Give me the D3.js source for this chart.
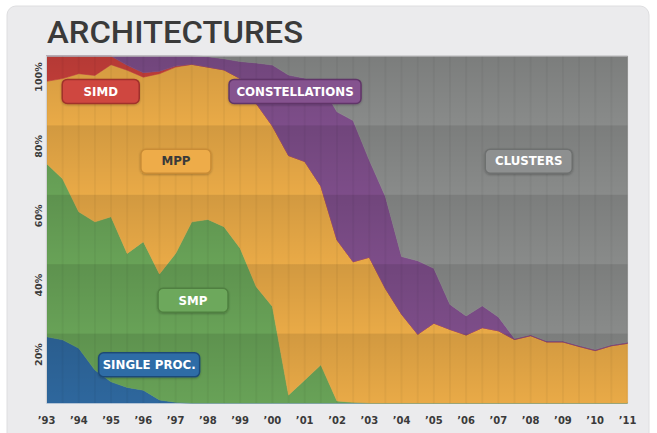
<!DOCTYPE html>
<html>
<head>
<meta charset="utf-8">
<script src="https://cdn.jsdelivr.net/npm/d3@7/dist/d3.min.js"></script>
<style>
  body { margin: 0; background: #fff; }
  svg { display: block; font-family: "DejaVu Sans", sans-serif; }
</style>
</head>
<body>
<div id="chart"></div>
<script>
// TOP500 share by architecture, two lists per year ('93 .. '11), in %
const periods = [1993, 1993.5, 1994, 1994.5, 1995, 1995.5, 1996, 1996.5, 1997, 1997.5,
  1998, 1998.5, 1999, 1999.5, 2000, 2000.5, 2001, 2001.5, 2002, 2002.5, 2003, 2003.5,
  2004, 2004.5, 2005, 2005.5, 2006, 2006.5, 2007, 2007.5, 2008, 2008.5, 2009, 2009.5,
  2010, 2010.5, 2011];
const singleProc = [19.1, 18.2, 15.8, 9.5, 6.1, 4.5, 3.7, 0.9, 0.2, 0, 0, 0, 0, 0, 0, 0, 0, 0, 0,
  0, 0, 0, 0, 0, 0, 0, 0, 0, 0, 0, 0, 0, 0, 0, 0, 0, 0];
const smp = [49.9, 46.4, 39.3, 42.7, 47.6, 38.6, 42.8, 36.3, 42.9, 52.2, 52.9, 50.8, 44.6, 33.5,
  27.8, 2.3, 6.6, 11.0, 0.6, 0.2, 0, 0, 0, 0, 0, 0, 0, 0, 0, 0, 0, 0, 0, 0, 0, 0, 0];
const mpp = [23.7, 28.9, 39.8, 42.2, 43.8, 52.8, 47.4, 57.7, 53.7, 45.4, 43.9, 45.2, 48.9, 52.8,
  52.0, 69.0, 63.0, 51.5, 46.4, 40.5, 42.0, 33.0, 25.6, 19.8, 23.0, 21.2, 19.6, 21.7, 20.8,
  18.3, 19.4, 17.6, 17.6, 16.3, 15.1, 16.5, 17.2];
const simd = [7.3, 6.5, 5.1, 5.6, 2.5, 1.4, 1.3, 0.7, 0.3, 0, 0, 0, 0, 0, 0, 0, 0, 0, 0, 0, 0, 0,
  0, 0, 0, 0, 0, 0, 0, 0, 0, 0, 0, 0, 0, 0, 0];
const constellations = [0, 0, 0, 0, 0, 2.7, 4.8, 4.4, 2.9, 2.4, 3.0, 3.2, 4.9, 11.7, 17.6, 23.2,
  24.0, 29.3, 36.9, 40.7, 28.0, 26.5, 16.6, 21.2, 15.8, 7.2, 5.5, 6.3, 4.0, 0.3, 0.3, 0.3, 0.3,
  0.3, 0.3, 0.3, 0.3];
const clusters = [0, 0, 0, 0, 0, 0, 0, 0, 0, 0, 0.2, 0.8, 1.6, 2.0, 2.6, 5.5, 6.4, 8.2, 16.1,
  18.6, 30.0, 40.5, 57.8, 59.0, 61.2, 71.6, 74.9, 72.0, 75.2, 81.4, 80.3, 82.1, 82.1, 83.4,
  84.6, 83.2, 82.5];

const yearTicks = d3.range(1993, 2012);
const yTicks = [20, 40, 60, 80, 100];
const bands = [[80, 100], [60, 80], [40, 60], [20, 40], [0, 20]];

const series = [
  {key: 'single', name: 'SINGLE PROC.', values: singleProc, color: '#2e679d'},
  {key: 'smp', name: 'SMP', values: smp, color: '#68a257'},
  {key: 'mpp', name: 'MPP', values: mpp, color: '#e9aa47'},
  {key: 'simd', name: 'SIMD', values: simd, color: '#c9403b'},
  {key: 'const', name: 'CONSTELLATIONS', values: constellations, color: '#7d4d89'},
  {key: 'clusters', name: 'CLUSTERS', values: clusters, color: '#898b8a'}
];

// label boxes: where the tag sits, in data units (year, %)
const tags = [
  {key: 'simd', at: [1994.68, 89.8], w: 77, fill: '#cf4640', stroke: '#a0302b', text: '#fff'},
  {key: 'const', at: [2000.70, 89.8], w: 132, fill: '#85528f', stroke: '#603668', text: '#fff'},
  {key: 'mpp', at: [1997.01, 69.7], w: 70, fill: '#eeac48', stroke: '#c98c36', text: '#3a3a3a'},
  {key: 'clusters', at: [2007.94, 69.7], w: 87, fill: '#8e9090', stroke: '#6e706f', text: '#fff'},
  {key: 'smp', at: [1997.54, 29.6], w: 70, fill: '#6da85b', stroke: '#4f8040', text: '#fff'},
  {key: 'single', at: [1996.18, 11.0], w: 101, fill: '#2f6ca6', stroke: '#1e4a77', text: '#fff'}
];

const W = 657, H = 433;
const margin = {top: 56, right: 30, bottom: 30, left: 46.5};
const width = 627.5 - margin.left;
const height = 403 - margin.top;

const svg = d3.select('#chart').append('svg')
  .attr('width', W)
  .attr('height', H);

const defs = svg.append('defs');
const grad = defs.append('linearGradient')
  .attr('id', 'bandShade')
  .attr('x1', 0).attr('y1', 0).attr('x2', 0).attr('y2', 1);
grad.append('stop').attr('offset', '0%').attr('stop-color', '#000').attr('stop-opacity', 0.1);
grad.append('stop').attr('offset', '100%').attr('stop-color', '#000').attr('stop-opacity', 0);

const shadow = defs.append('filter').attr('id', 'tagShadow')
  .attr('x', '-10%').attr('y', '-20%').attr('width', '120%').attr('height', '160%');
shadow.append('feDropShadow')
  .attr('dx', 0).attr('dy', 1).attr('stdDeviation', 0.8)
  .attr('flood-color', '#000').attr('flood-opacity', 0.25);

// panel background
svg.append('rect')
  .attr('x', 7).attr('y', 6)
  .attr('width', 642).attr('height', 445)
  .attr('rx', 9)
  .attr('fill', '#ebebed')
  .attr('stroke', '#dedee0');

// title
svg.append('text')
  .attr('x', 47)
  .attr('y', 43)
  .attr('textLength', 256)
  .attr('lengthAdjust', 'spacingAndGlyphs')
  .style('font-family', 'Roboto, sans-serif')
  .style('font-size', '32px')
  .style('font-weight', 500)
  .style('fill', '#3a3a3a')
  .text('ARCHITECTURES');

const g = svg.append('g')
  .attr('transform', `translate(${margin.left},${margin.top})`);

const x = d3.scaleLinear()
  .domain([1993, 2011])
  .range([0, width]);

const y = d3.scaleLinear()
  .domain([0, 100])
  .range([height, 0]);

// stack the shares
const table = periods.map((p, i) => {
  const row = {period: p};
  series.forEach(s => { row[s.key] = s.values[i]; });
  return row;
});

const stacked = d3.stack()
  .keys(series.map(s => s.key))(table);

const area = d3.area()
  .x(d => x(d.data.period))
  .y0(d => y(d[0]))
  .y1(d => y(d[1]));

g.append('g')
  .selectAll('path')
  .data(stacked)
  .enter()
  .append('path')
  .attr('d', area)
  .attr('fill', (d, i) => series[i].color)
  .attr('stroke', (d, i) => series[i].color)
  .attr('stroke-width', 0.6);

// shaded 20% bands
g.append('g')
  .selectAll('rect')
  .data(bands)
  .enter()
  .append('rect')
  .attr('x', 0)
  .attr('y', d => y(d[1]))
  .attr('width', width)
  .attr('height', d => y(d[0]) - y(d[1]))
  .attr('fill', 'url(#bandShade)');

// faint vertical stripes at every list
g.append('g')
  .selectAll('line')
  .data(periods)
  .enter()
  .append('line')
  .attr('x1', d => x(d))
  .attr('x2', d => x(d))
  .attr('y1', 0)
  .attr('y2', height)
  .attr('stroke', '#000')
  .attr('stroke-opacity', 0.035)
  .attr('stroke-width', 2);

// thin frame
g.append('path')
  .attr('d', `M0,${height}V0H${width}`)
  .attr('fill', 'none')
  .attr('stroke', '#d2d2d4')
  .attr('stroke-width', 1);

// x labels
g.append('g')
  .selectAll('text')
  .data(yearTicks)
  .enter()
  .append('text')
  .attr('x', d => x(d))
  .attr('y', height + 21)
  .attr('text-anchor', 'middle')
  .style('font-size', '10px')
  .style('font-weight', 'bold')
  .style('fill', '#3a3a3a')
  .text(d => '\u2019' + String(d).slice(2));

// y labels (rotated)
g.append('g')
  .selectAll('text')
  .data(yTicks)
  .enter()
  .append('text')
  .attr('transform', d => `translate(-8,${y(d) + 21}) rotate(-90)`)
  .attr('text-anchor', 'middle')
  .attr('dy', '0.35em')
  .style('font-size', '9.5px')
  .style('font-weight', 'bold')
  .style('fill', '#3a3a3a')
  .text(d => d + '%');

// series tags
const tag = g.append('g')
  .selectAll('g')
  .data(tags)
  .enter()
  .append('g')
  .attr('transform', d => `translate(${x(d.at[0])},${y(d.at[1])})`);

tag.append('rect')
  .attr('x', d => -d.w / 2)
  .attr('y', -12)
  .attr('width', d => d.w)
  .attr('height', 24)
  .attr('rx', 5)
  .attr('fill', d => d.fill)
  .attr('stroke', d => d.stroke)
  .attr('stroke-width', 1.5)
  .attr('filter', 'url(#tagShadow)');

tag.append('text')
  .attr('text-anchor', 'middle')
  .attr('dy', '0.36em')
  .style('font-size', '11.8px')
  .style('font-weight', 'bold')
  .style('fill', d => d.text)
  .text(d => series.find(s => s.key === d.key).name);
</script>
</body>
</html>
